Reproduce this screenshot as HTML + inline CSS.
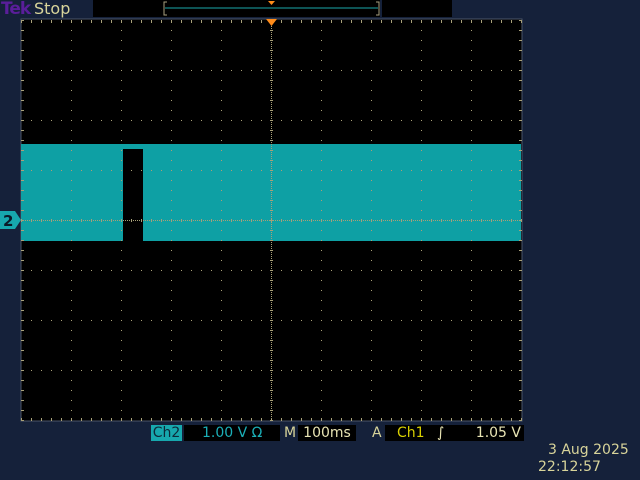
<!DOCTYPE html>
<html><head><meta charset="utf-8"><style>
body{margin:0;width:640px;height:480px;background:#15213a;overflow:hidden;font-family:"DejaVu Sans","Liberation Sans",sans-serif}
.t{position:absolute;white-space:nowrap}
</style></head><body>
<div style="position:relative;width:640px;height:480px">
<div class="t" style="left:1px;top:-1px;font-size:17px;font-weight:bold;color:#5a1e9a;letter-spacing:-1px">Tek</div>
<div class="t" style="left:34px;top:-1px;font-size:16px;color:#d8d49a">Stop</div>
<div style="position:absolute;left:93px;top:0;width:287px;height:17px;background:#000"></div>
<div style="position:absolute;left:382px;top:0;width:70px;height:17px;background:#000"></div>
<svg id="sv" width="640" height="480" style="position:absolute;left:0;top:0"></svg>
<div class="t" style="left:151px;top:425px;width:31px;height:16px;background:#17a8ae;color:#0d2a3a;font-size:14px;line-height:16px;text-align:center">Ch2</div>
<div class="t" style="left:184px;top:425px;width:96px;height:16px;background:#000;color:#1bb0b8;font-size:14px;line-height:16px;padding-left:18px;box-sizing:border-box">1.00 V Ω</div>
<div class="t" style="left:284px;top:425px;color:#d8d49a;font-size:14px;line-height:16px">M</div>
<div class="t" style="left:298px;top:425px;width:58px;height:16px;background:#000;color:#e8e4b4;font-size:14px;line-height:16px;text-align:center">100ms</div>
<div class="t" style="left:372px;top:425px;color:#d8d49a;font-size:14px;line-height:16px">A</div>
<div class="t" style="left:385px;top:425px;width:139px;height:16px;background:#000;font-size:14px;line-height:16px"><span style="position:absolute;left:12px;color:#d8d000">Ch1</span><span style="position:absolute;left:52px;color:#e8e4b4">∫</span><span style="position:absolute;right:3px;color:#e8e4b4">1.05 V</span></div>
<div class="t" style="left:548px;top:442px;color:#d8d49a;font-size:14px">3 Aug 2025</div>
<div class="t" style="left:538px;top:459px;color:#d8d49a;font-size:14px">22:12:57</div>
</div>
<script>
// data: time in ms, volts
const segStart=[-500,-256];
const segEnd=[-296,500];
const highV=[1.52,1.52];
const lowV=[-0.42,-0.42];
const gapStart=[-296];
const gapEnd=[-256];
const gapTop=[1.42];
const X0=21,X1=521,Y0=20,Y1=420;
const xs=t=>271+t/100*50;
const ys=v=>220-v*50;
const NS="http://www.w3.org/2000/svg",sv=document.getElementById('sv');
function mk(tag,a){const e=document.createElementNS(NS,tag);for(const k in a)e.setAttribute(k,a[k]);sv.appendChild(e);return e;}
let r=mk('rect',{x:X0,y:Y0-1,width:X1-X0+1,height:Y1-Y0+2,fill:'#000',stroke:'#4a5568','stroke-width':1});


for(let i=0;i<segStart.length;i++){
 const e=mk('rect',{x:xs(segStart[i]),y:ys(highV[i]),width:xs(segEnd[i])-xs(segStart[i]),height:ys(lowV[i])-ys(highV[i]),fill:'#0ea0a4'});
 
 
}
for(let i=0;i<gapStart.length;i++){
 const e=mk('rect',{x:xs(gapStart[i]),y:ys(gapTop[i]),width:xs(gapEnd[i])-xs(gapStart[i]),height:ys(lowV[0])-ys(gapTop[i]),fill:'#000'});
 
 
 const f=mk('rect',{x:xs(gapStart[i]),y:ys(highV[0]),width:xs(gapEnd[i])-xs(gapStart[i]),height:ys(gapTop[i])-ys(highV[0]),fill:'#0ea0a4'});
 
 
}
const gc='#a8a078';
for(let i=1;i<10;i++){const x=X0+i*50;for(let y=Y0;y<=Y1;y+=10)mk('rect',{x:x,y:y,width:1,height:1,fill:gc});}
for(let j=1;j<8;j++){const y=Y0+j*50;for(let x=X0;x<=X1;x+=10)mk('rect',{x:x,y:y,width:1,height:1,fill:gc});}
for(let x=X0;x<=X1;x+=10){mk('rect',{x:x,y:219,width:1,height:3,fill:gc});mk('rect',{x:x,y:Y0,width:1,height:3,fill:gc});mk('rect',{x:x,y:Y1-2,width:1,height:3,fill:gc});}
for(let y=Y0;y<=Y1;y+=10){mk('rect',{x:270,y:y,width:3,height:1,fill:gc});mk('rect',{x:X0,y:y,width:3,height:1,fill:gc});mk('rect',{x:X1-2,y:y,width:3,height:1,fill:gc});}
for(let x=X0;x<=X1;x+=2)mk('rect',{x:x,y:220,width:1,height:1,fill:gc});
for(let y=Y0;y<=Y1;y+=2)mk('rect',{x:271,y:y,width:1,height:1,fill:gc});
mk('line',{x1:165,y1:8,x2:378,y2:8,stroke:'#1aa8aa','stroke-width':1});
mk('path',{d:'M167 2 H164 V15 H167 M376 2 H379 V15 H376',stroke:'#a8a080',fill:'none'});
mk('path',{d:'M268 1 H275 L271.5 5 Z',fill:'#ff8c1a'});
let tm=mk('path',{d:'M266 19 H277 L271.5 26 Z',fill:'#ff8c1a'});


let m=mk('path',{d:'M0 211 H15 L21 220 L15 229 H0 Z',fill:'#17a8ae'});


const t=mk('text',{x:3,y:226,'font-size':15,'font-weight':'bold',fill:'#0a1a28','font-family':'DejaVu Sans'});t.textContent='2';
</script>
</body></html>
